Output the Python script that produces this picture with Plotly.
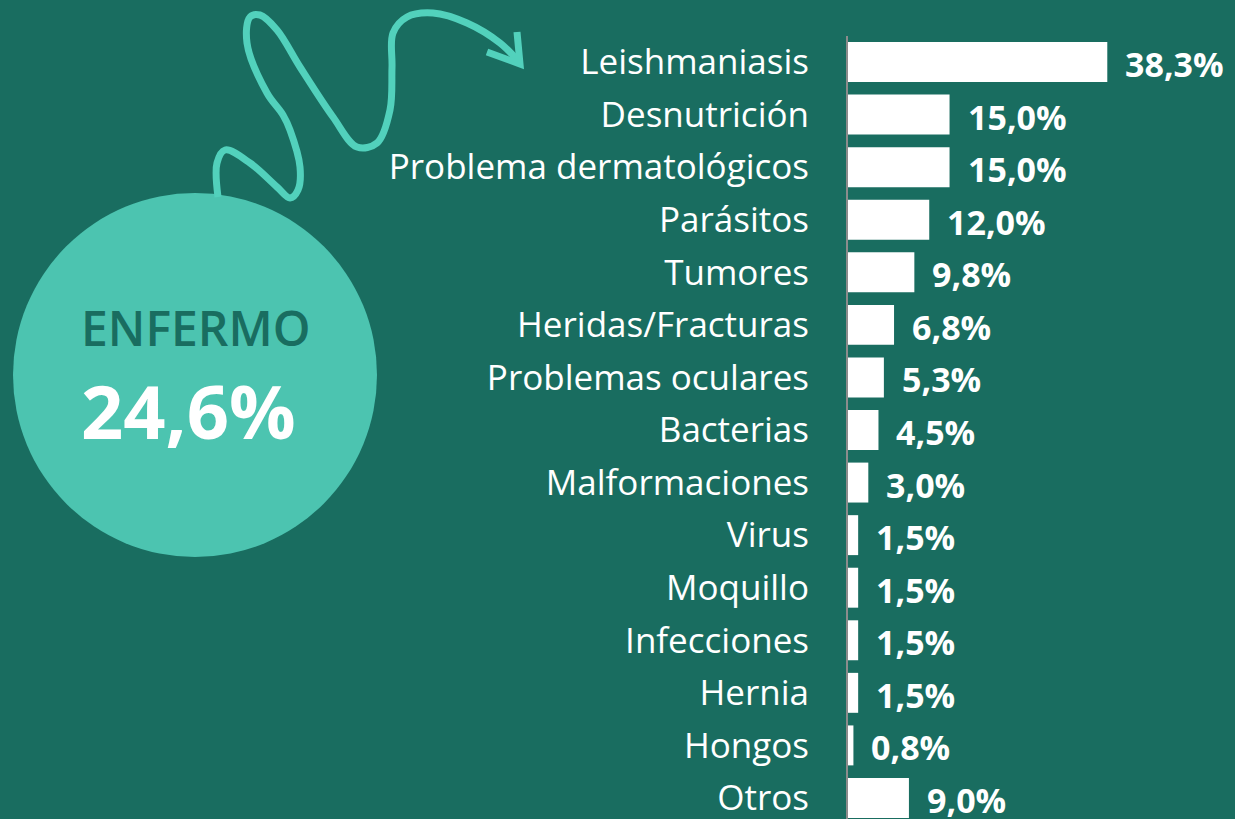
import plotly.graph_objects as go

# ---- data ----
categories = ["Leishmaniasis", "Desnutrición", "Problema dermatológicos", "Parásitos",
              "Tumores", "Heridas/Fracturas", "Problemas oculares", "Bacterias",
              "Malformaciones", "Virus", "Moquillo", "Infecciones", "Hernia",
              "Hongos", "Otros"]
values = [38.3, 15.0, 15.0, 12.0, 9.8, 6.8, 5.3, 4.5, 3.0, 1.5, 1.5, 1.5, 1.5, 0.8, 9.0]
headline_label = "ENFERMO"
headline_value = 24.6

# ---- style ----
W, H = 1235, 819
BG = "#196d60"
CIRCLE = "#4cc4b0"
ARROW = "#52d1bc"
FONT = "Open Sans"

def fmt(v):
    return f"{v:.1f}".replace(".", ",") + "%"

fig = go.Figure()

fig.add_trace(go.Bar(
    x=values, y=categories, orientation="h",
    marker=dict(color="white", line=dict(width=0)),
    hoverinfo="skip", xaxis="x", yaxis="y",
))

# value labels
annotations = []
for c, v in zip(categories, values):
    annotations.append(dict(
        x=v, y=c, xref="x", yref="y", text=f"<b>{fmt(v)}</b>",
        showarrow=False, xanchor="left", yanchor="middle",
        xshift=16, yshift=-2,
        font=dict(family=FONT, size=34, color="white"),
    ))

# decorative arrow (pixel coordinates on overlay axes)
arrow_x = [218, 217, 225, 250, 277, 290, 298, 300, 290, 283, 267, 247, 250, 260, 277,
           300, 333, 357, 377, 390, 392, 393, 407, 433, 467, 500, 520]
arrow_y = [197, 163, 150, 163, 187, 198, 190, 167, 130, 115, 93, 43, 17, 15, 30,
           67, 117, 147, 143, 110, 67, 33, 17, 13, 23, 43, 63]
fig.add_trace(go.Scatter(
    x=arrow_x, y=arrow_y, mode="lines",
    line=dict(color=ARROW, width=7, shape="spline", smoothing=1.0),
    hoverinfo="skip", xaxis="x2", yaxis="y2",
))
fig.add_trace(go.Scatter(
    x=[487, 520, 517], y=[52, 64, 32], mode="lines",
    line=dict(color=ARROW, width=7),
    hoverinfo="skip", xaxis="x2", yaxis="y2",
))

# circle + headline text
shapes = [
    dict(type="circle", xref="x2", yref="y2", x0=13, x1=377, y0=193, y1=557,
         fillcolor=CIRCLE, line=dict(width=0), layer="below"),
    dict(type="line", xref="x2", yref="y2", x0=847, x1=847, y0=36, y1=819,
         line=dict(color="#8c8c8c", width=2)),
]
annotations.append(dict(
    x=195, y=327, xref="x2", yref="y2", text=headline_label, showarrow=False,
    xanchor="center", yanchor="middle",
    font=dict(family=FONT, size=48, color=BG, weight=600),
))
annotations.append(dict(
    x=188, y=410, xref="x2", yref="y2", text=f"<b>{fmt(headline_value)}</b>",
    showarrow=False, xanchor="center", yanchor="middle",
    font=dict(family=FONT, size=74, color="white"),
))

px_per_unit = 6.77
fig.update_layout(
    width=W, height=H, autosize=False,
    margin=dict(l=0, r=0, t=0, b=0, pad=0),
    paper_bgcolor=BG, plot_bgcolor="rgba(0,0,0,0)",
    showlegend=False, bargap=0.24,
    font=dict(family=FONT, color="white"),
    xaxis=dict(domain=[848 / W, 1], range=[0, (W - 848) / px_per_unit],
               visible=False, fixedrange=True),
    yaxis=dict(domain=[0, 1], type="category", categoryorder="array",
               categoryarray=categories, range=[14.40, -1.18],
               showgrid=False, zeroline=False, showline=False,
               ticks="", ticklabelstandoff=38, automargin=False,
               tickfont=dict(family=FONT, size=35, color="white")),
    xaxis2=dict(domain=[0, 1], range=[0, W], visible=False, anchor="y2",
                fixedrange=True),
    yaxis2=dict(domain=[0, 1], range=[H, 0], visible=False, anchor="x2",
                fixedrange=True),
    shapes=shapes,
    annotations=annotations,
)

fig.write_html(
    "out.html",
    config={"displayModeBar": False},
    post_script="document.body.style.margin='0';document.body.style.padding='0';"
                "document.body.style.background='" + BG + "';",
)
